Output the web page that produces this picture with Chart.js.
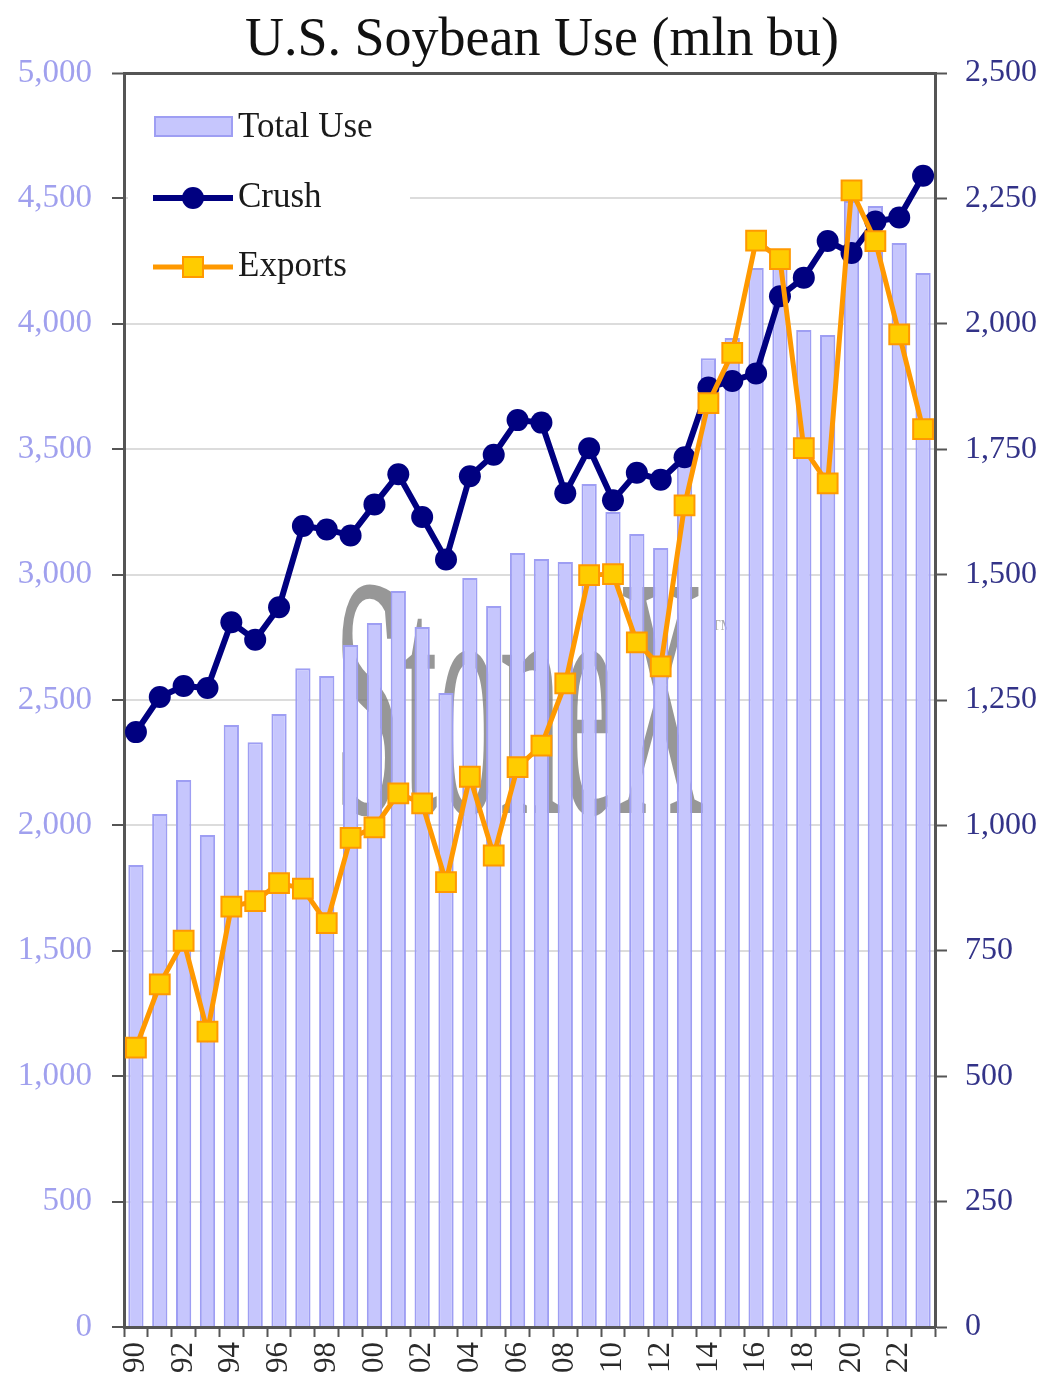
<!DOCTYPE html>
<html>
<head>
<meta charset="utf-8">
<script src="https://cdn.jsdelivr.net/npm/chart.js@4"></script>
<style>
  html, body { margin: 0; padding: 0; background: #ffffff; }
  #wrap { width: 1048px; height: 1390px; position: relative; }
</style>
</head>
<body>
<div id="wrap"><canvas id="c" width="1048" height="1390"></canvas></div>
<script>
const years = ['90','91','92','93','94','95','96','97','98','99','00','01','02','03','04','05','06','07','08','09','10','11','12','13','14','15','16','17','18','19','20','21','22','23'];
const totalUse = [1842,2045,2181,1962,2400,2332,2444,2627,2596,2719,2807,2935,2791,2528,2986,2875,3086,3062,3050,3361,3250,3162,3106,3460,3863,3943,4222,4290,3975,3955,4490,4470,4322,4203];
const crush = [1186,1256,1278,1274,1405,1370,1435,1597,1590,1578,1640,1700,1615,1530,1696,1739,1808,1803,1662,1752,1648,1703,1689,1734,1873,1886,1901,2055,2092,2165,2141,2204,2212,2295];
const exportsData = [557,683,770,589,838,849,885,874,805,975,996,1064,1044,887,1097,940,1116,1159,1283,1499,1501,1365,1317,1638,1842,1942,2166,2129,1752,1682,2266,2165,1979,1790];
const leftTicksMax = 5000, leftStep = 500;
const rightTicksMax = 2500, rightStep = 250;
const titleText = 'U.S. Soybean Use (mln bu)';
const legendLabels = ['Total Use', 'Crush', 'Exports'];
const watermark = 'StoneX';

const SERIF = '"Liberation Serif", "DejaVu Serif", serif';
const barFill = '#c6c6fd';
const barBorder = '#9e9ef3';
const navy = '#000080';
const orange = '#ff9900';
const yellow = '#ffcc00';

const decorPlugin = {
  id: 'decor',
  beforeDatasetsDraw(chart) {
    const ctx = chart.ctx;
    const a = chart.chartArea;
    // watermark
    ctx.save();
    ctx.font = '345px ' + SERIF;
    const w = ctx.measureText(watermark).width;
    const targetW = 372;
    ctx.translate(334, 813);
    ctx.scale(targetW / w, 1);
    ctx.fillStyle = 'rgba(125,125,125,0.8)';
    ctx.textBaseline = 'alphabetic';
    ctx.fillText(watermark, 0, 0);
    ctx.restore();
    ctx.save();
    ctx.font = '14px ' + SERIF;
    ctx.fillStyle = 'rgba(150,150,150,0.8)';
    ctx.fillText('TM', 712, 630);
    ctx.restore();

    // legend
    ctx.save();
    ctx.fillStyle = '#ffffff';
    ctx.fillRect(a.left + 4, 92, 282, 208);
    ctx.font = '35px ' + SERIF;
    ctx.textBaseline = 'middle';
    ctx.textAlign = 'left';
    // Total Use swatch
    ctx.fillStyle = barFill;
    ctx.fillRect(155, 117, 77, 19);
    ctx.strokeStyle = barBorder;
    ctx.lineWidth = 2;
    ctx.strokeRect(155, 117, 77, 19);
    ctx.fillStyle = '#1a1a1a';
    ctx.fillText(legendLabels[0], 238, 128);
    // Crush
    ctx.strokeStyle = navy;
    ctx.lineWidth = 6;
    ctx.beginPath(); ctx.moveTo(153, 198); ctx.lineTo(233, 198); ctx.stroke();
    ctx.fillStyle = navy;
    ctx.beginPath(); ctx.arc(193, 198, 11, 0, Math.PI * 2); ctx.fill();
    ctx.fillStyle = '#1a1a1a';
    ctx.fillText(legendLabels[1], 238, 198);
    // Exports
    ctx.strokeStyle = orange;
    ctx.lineWidth = 5;
    ctx.beginPath(); ctx.moveTo(153, 267); ctx.lineTo(233, 267); ctx.stroke();
    ctx.fillStyle = yellow;
    ctx.fillRect(183, 257, 20, 20);
    ctx.strokeStyle = orange;
    ctx.lineWidth = 2;
    ctx.strokeRect(183, 257, 20, 20);
    ctx.fillStyle = '#1a1a1a';
    ctx.fillText(legendLabels[2], 238, 267);
    ctx.restore();
  },
  afterDraw(chart) {
    const ctx = chart.ctx;
    ctx.save();
    ctx.font = '54px ' + SERIF;
    ctx.fillStyle = '#111111';
    ctx.textAlign = 'center';
    ctx.textBaseline = 'alphabetic';
    ctx.fillText(titleText, 542, 55);
    ctx.restore();
  }
};

new Chart(document.getElementById('c'), {
  data: {
    labels: years,
    datasets: [
      {
        type: 'line', label: 'Exports', data: exportsData, yAxisID: 'y1', order: 0,
        borderColor: orange, borderWidth: 5, backgroundColor: yellow,
        pointStyle: 'rect', pointRadius: 14, pointBackgroundColor: yellow,
        pointBorderColor: orange, pointBorderWidth: 2, tension: 0
      },
      {
        type: 'line', label: 'Crush', data: crush, yAxisID: 'y1', order: 1,
        borderColor: navy, borderWidth: 6, backgroundColor: navy,
        pointStyle: 'circle', pointRadius: 11, pointBackgroundColor: navy,
        pointBorderColor: navy, pointBorderWidth: 0, tension: 0
      },
      {
        type: 'bar', label: 'Total Use', data: totalUse, yAxisID: 'y', order: 2,
        backgroundColor: barFill, borderColor: barBorder, borderWidth: 2,
        barPercentage: 0.64, categoryPercentage: 1.0
      }
    ]
  },
  options: {
    responsive: false,
    animation: false,
    devicePixelRatio: 1,
    layout: { padding: { top: 73, left: 0, right: 0, bottom: 0 } },
    plugins: { legend: { display: false }, title: { display: false }, tooltip: { enabled: false } },
    scales: {
      x: {
        offset: true,
        grid: { display: true, drawOnChartArea: false, offset: true, tickLength: 10, tickColor: '#555555', tickWidth: 2 },
        border: { color: '#555555', width: 3 },
        ticks: {
          autoSkip: false, minRotation: 90, maxRotation: 90, padding: 5,
          color: '#2a2a2a', font: { family: SERIF, size: 31 },
          callback: function(v, i) { return i % 2 === 0 ? years[i] : ''; }
        },
        afterFit: function(s) { s.height = 63; }
      },
      y: {
        position: 'left', min: 0, max: leftTicksMax,
        grid: {
          color: function(c) { return c.tick && c.tick.value === leftTicksMax ? '#555555' : '#dcdcdc'; },
          lineWidth: function(c) { return c.tick && c.tick.value === leftTicksMax ? 3 : 2; },
          tickLength: 12, tickColor: '#555555', tickWidth: 2
        },
        border: { color: '#555555', width: 3 },
        ticks: {
          stepSize: leftStep, padding: 20, color: '#a0a0ee',
          font: { family: SERIF, size: 33 },
          callback: function(v) { return v.toLocaleString('en-US'); }
        },
        afterFit: function(s) { s.width = 124; }
      },
      y1: {
        position: 'right', min: 0, max: rightTicksMax,
        grid: { drawOnChartArea: false, tickLength: 12, tickColor: '#555555', tickWidth: 2 },
        border: { color: '#555555', width: 3 },
        ticks: {
          stepSize: rightStep, padding: 18, color: '#333388',
          font: { family: SERIF, size: 32 },
          callback: function(v) { return v.toLocaleString('en-US'); }
        },
        afterFit: function(s) { s.width = 113; }
      }
    }
  },
  plugins: [decorPlugin]
});
</script>
</body>
</html>
